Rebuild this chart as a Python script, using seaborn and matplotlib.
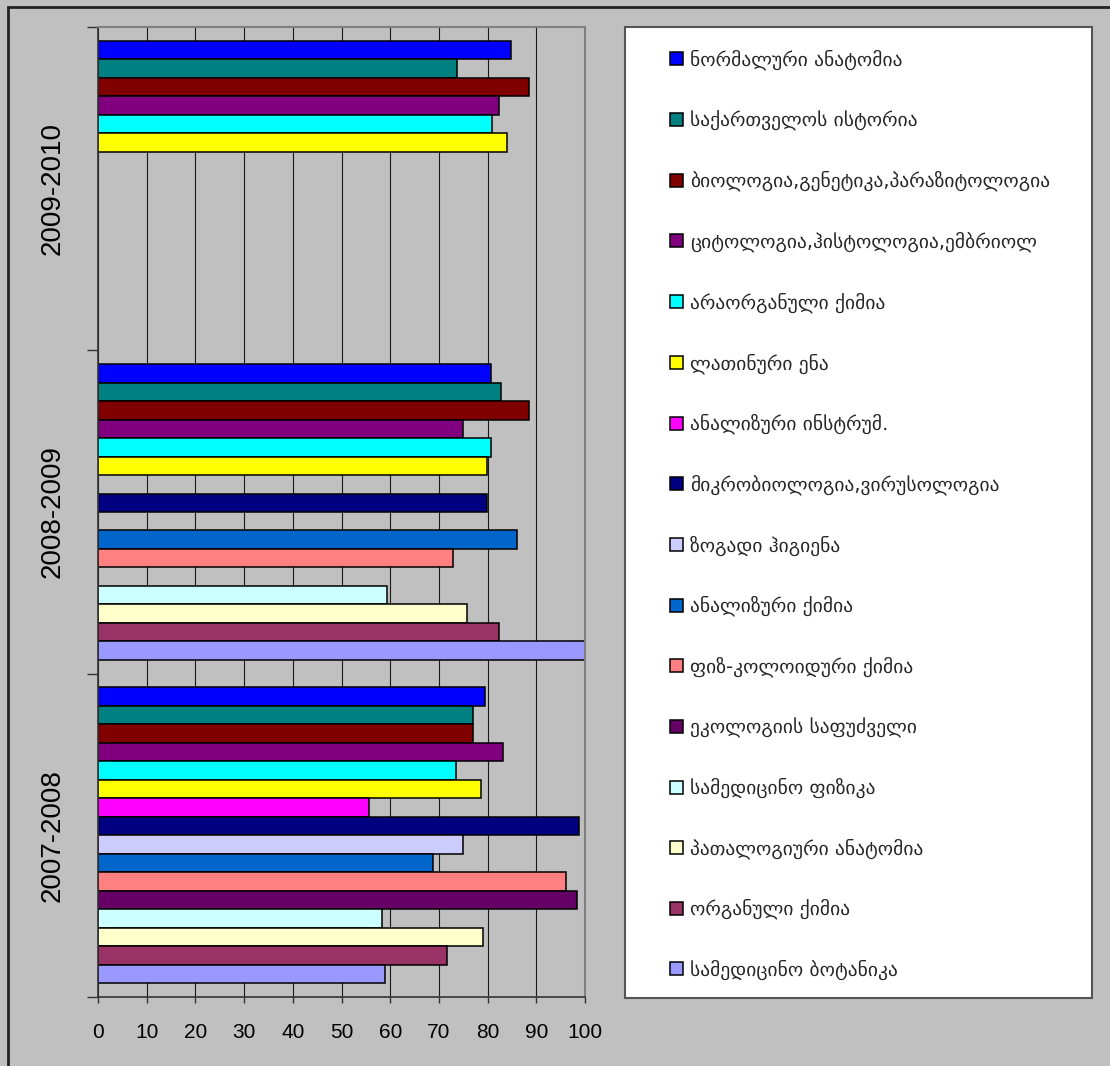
import matplotlib.pyplot as plt
import pandas as pd
import seaborn as sns
from matplotlib.patches import Patch, Rectangle


YEARS = ["2009-2010", "2008-2009", "2007-2008"]
SUBJECTS = [
    "ნორმალური ანატომია",
    "საქართველოს ისტორია",
    "ბიოლოგია,გენეტიკა,პარაზიტოლოგია",
    "ციტოლოგია,ჰისტოლოგია,ემბრიოლ",
    "არაორგანული ქიმია",
    "ლათინური ენა",
    "ანალიზური ინსტრუმ.",
    "მიკრობიოლოგია,ვირუსოლოგია",
    "ზოგადი ჰიგიენა",
    "ანალიზური ქიმია",
    "ფიზ-კოლოიდური ქიმია",
    "ეკოლოგიის საფუძველი",
    "სამედიცინო ფიზიკა",
    "პათალოგიური ანატომია",
    "ორგანული ქიმია",
    "სამედიცინო ბოტანიკა",
]
COLORS = [
    "#0000FF", "#008080", "#800000", "#800080", "#00FFFF", "#FFFF00",
    "#FF00FF", "#000080", "#CCCCFF", "#0066CC", "#FF8080", "#660066",
    "#CCFFFF", "#FFFFCC", "#993366", "#9999FF",
]
# None = subject not taught that year
VALUES_2007 = [79.5, 77, 77, 83.2, 73.6, 78.6, 55.6, 98.8, 74.9, 68.7, 96.2, 98.4, 58.4, 79.1, 71.7, 58.9]
VALUES_2008 = [80.6, 82.7, 88.5, 74.9, 80.6, 79.8, None, 79.8, None, 86.0, 72.8, None, 59.3, 75.7, 82.3, 100]
VALUES_2009 = [84.8, 73.7, 88.5, 82.3, 81.0, 83.9, None, None, None, None, None, None, None, None, None, None]

W, H = 1110, 1066
BG = "#C0C0C0"

rows = []
for year, values in zip(["2007-2008", "2008-2009", "2009-2010"], [VALUES_2007, VALUES_2008, VALUES_2009]):
    for subject, value in zip(SUBJECTS, values):
        if value is not None:
            rows.append({"year": year, "subject": subject, "score": value})
df = pd.DataFrame(rows)

sns.set_style("white")
plt.rcParams["font.family"] = ["Liberation Sans", "DejaVu Sans"]

fig = plt.figure(figsize=(W / 100, H / 100), dpi=100, facecolor=BG)
ax = fig.add_axes([98 / W, 1 - 997 / H, (585 - 98) / W, (997 - 27) / H])
ax.set_facecolor(BG)

sns.barplot(
    data=df, x="score", y="year", hue="subject", order=YEARS, hue_order=SUBJECTS,
    palette=COLORS, orient="h", width=0.915, errorbar=None, saturation=1,
    edgecolor="black", linewidth=1.1, legend=False, ax=ax,
)

ax.set_xlim(0, 100)
ax.set_ylim(2.5, -0.5)
ax.set_xticks(range(0, 101, 10))
ax.xaxis.grid(True, color="#1a1a1a", linewidth=0.8)
ax.yaxis.grid(False)
ax.set_axisbelow(True)
ax.set_xlabel("")
ax.set_ylabel("")

ax.set_yticks([0, 1, 2], YEARS, rotation=90, va="center")
ax.set_yticks([-0.5, 0.5, 1.5, 2.5], minor=True)
ax.tick_params(axis="y", which="major", left=True, length=0, pad=23, labelsize=20, labelcolor="black")
ax.tick_params(axis="y", which="minor", left=True, length=8, width=1, color="#333333")
ax.tick_params(axis="x", bottom=True, length=4.5, width=1, color="#333333", pad=14,
               labelsize=15, labelcolor="black")

for side in ["left", "bottom"]:
    ax.spines[side].set_color("#333333")
    ax.spines[side].set_linewidth(1.2)
for side in ["top", "right"]:
    ax.spines[side].set_color("#808080")
    ax.spines[side].set_linewidth(1.5)

# legend box
fig.add_artist(Rectangle((625 / W, 1 - 998 / H), (1092 - 625) / W, (998 - 27) / H,
                         transform=fig.transFigure, facecolor="white", edgecolor="#555555", linewidth=1.5))
handles = [Patch(facecolor=c, edgecolor="black", linewidth=1.1, label=s) for s, c in zip(SUBJECTS, COLORS)]
fig.legend(handles=handles, loc="upper left", bbox_to_anchor=(670 / W, 1 - 49.5 / H), frameon=False,
           prop={"family": ["DejaVu Sans"], "size": 14}, handlelength=0.65, handleheight=0.65,
           handletextpad=0.4, labelspacing=2.07, borderpad=0, borderaxespad=0)

# outer chart frame
fig.add_artist(Rectangle((8 / W, -0.1), 1.2, 1.1 - 7 / H, transform=fig.transFigure,
                         fill=False, edgecolor="#222222", linewidth=2))

fig.savefig("out.png", dpi=100, facecolor=fig.get_facecolor())
